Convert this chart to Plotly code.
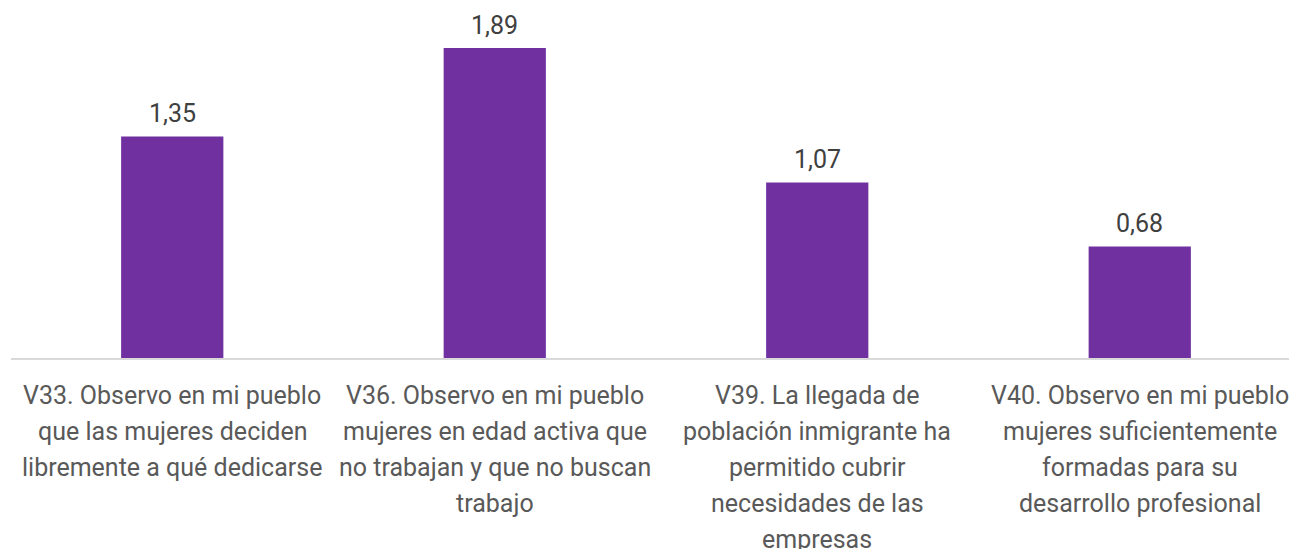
import plotly.graph_objects as go

# Data
categories = ["V33", "V36", "V39", "V40"]
values = [1.35, 1.89, 1.07, 0.68]
label_lines = [
    ["V33. Observo en mi pueblo", "que las mujeres deciden", "libremente a qué dedicarse"],
    ["V36. Observo en mi pueblo", "mujeres en edad activa que", "no trabajan y que no buscan", "trabajo"],
    ["V39. La llegada de", "población inmigrante ha", "permitido cubrir", "necesidades de las", "empresas"],
    ["V40. Observo en mi pueblo", "mujeres suficientemente", "formadas para su", "desarrollo profesional"],
]

font_family = "Roboto, Inter, 'Noto Sans', sans-serif"

fig = go.Figure(go.Bar(
    x=categories,
    y=values,
    marker=dict(color="#7030A0", line=dict(width=0)),
    hoverinfo="x+y",
))

# value labels above the bars (comma decimal separator)
for cat, val in zip(categories, values):
    fig.add_annotation(
        x=cat, y=val, xref="x", yref="y",
        text=f"{val:.2f}".replace(".", ","), showarrow=False,
        yanchor="middle", yshift=23,
        font=dict(size=25, color="#404040", family=font_family),
    )

# multi-line category labels with Excel-like line spacing
for cat, lines in zip(categories, label_lines):
    for i, line in enumerate(lines):
        fig.add_annotation(
            x=cat, y=0, xref="x", yref="y",
            text=line, showarrow=False,
            yanchor="middle", yshift=-37 - 36 * i,
            font=dict(size=25, color="#595959", family=font_family),
        )

fig.update_layout(
    width=1297, height=549,
    margin=dict(l=3, r=4, t=22, b=199),
    plot_bgcolor="white", paper_bgcolor="white",
    bargap=0.683,
    showlegend=False,
    xaxis=dict(showticklabels=False, showline=True, linecolor="#D9D9D9",
               linewidth=1.5, ticks="", showgrid=False),
    yaxis=dict(range=[0, 2], visible=False, showgrid=False, zeroline=False),
    font=dict(family=font_family),
)

fig.write_html("out.html")
